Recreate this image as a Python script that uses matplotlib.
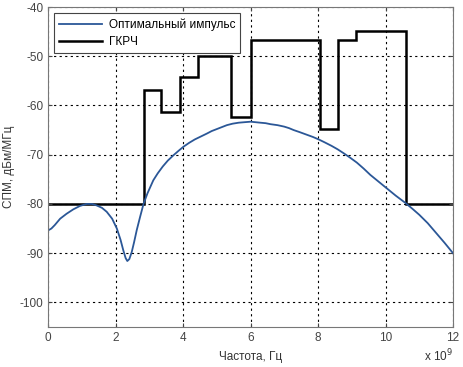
import numpy as np
import matplotlib
matplotlib.use("Agg")
import matplotlib.pyplot as plt

plt.rcParams['font.family'] = ['Liberation Sans', 'DejaVu Sans']
plt.rcParams['axes.unicode_minus'] = False

# Optimal pulse PSD (frequency in units of 1e9 Hz, dBm/MHz)
opt_f = [0.0, 0.1, 0.2, 0.36, 0.55, 0.75, 0.95, 1.15, 1.3, 1.44, 1.6, 1.74, 1.9, 2.04, 2.15, 2.23, 2.3, 2.35, 2.41,
         2.48, 2.55, 2.63, 2.73, 2.83, 2.95, 3.12, 3.25, 3.4, 3.55, 3.72, 3.87, 4.01, 4.18, 4.35, 4.53, 4.71, 4.85, 5.0,
         5.15, 5.3, 5.47, 5.65, 5.82, 6.0, 6.15, 6.29, 6.45, 6.59, 6.8, 7.0, 7.14, 7.28, 7.45, 7.65, 7.85, 8.02, 8.2,
         8.4, 8.58, 8.76, 8.95, 9.15, 9.35, 9.55, 9.8, 10.05, 10.3, 10.59, 10.8, 11.0, 11.25, 11.5, 11.75, 12.0]
opt_p = [-85.4, -85.0, -84.3, -83.0, -82.0, -81.1, -80.4, -80.0, -80.0, -80.3, -80.8, -81.6, -83.0, -85.0, -87.3, -89.4, -91.0, -91.6, -91.2,
         -89.8, -87.8, -85.3, -82.6, -80.0, -77.8, -75.2, -73.8, -72.4, -71.2, -70.1, -69.2, -68.4, -67.6, -66.9, -66.3, -65.7, -65.2, -64.8,
         -64.4, -64.0, -63.7, -63.5, -63.4, -63.3, -63.4, -63.5, -63.6, -63.8, -64.0, -64.3, -64.6, -65.0, -65.4, -65.9, -66.4, -66.9, -67.5,
         -68.2, -68.9, -69.7, -70.6, -71.6, -72.8, -74.1, -75.5, -76.9, -78.3, -79.8, -81.0, -82.2, -83.9, -85.9, -87.9, -90.0]

# GKRCh step mask: band edges and levels
mask_edges = [0.0, 2.84, 3.36, 3.92, 4.43, 5.43, 6.01, 8.07, 8.6, 9.14, 10.6, 12.0]
mask_levels = [-80.0, -56.9, -61.4, -54.2, -49.9, -62.4, -46.8, -64.8, -46.8, -44.9, -80.0]

legend_labels = ['Оптимальный импульс', 'ГКРЧ']
x_ticks = [0, 2, 4, 6, 8, 10, 12]
y_ticks = [-100, -90, -80, -70, -60, -50, -40]

fig = plt.figure(figsize=(4.63, 3.67), dpi=100)
ax = fig.add_axes([48/463, 40/367, 405/463, 320/367])

ax.plot(opt_f, opt_p, color='#2b5797', lw=1.3, label=legend_labels[0])
ax.stairs(mask_levels, mask_edges, color='black', lw=1.8, baseline=None, label=legend_labels[1])

ax.set_xlim(0, 12)
ax.set_ylim(-105, -40)
ax.set_xticks(x_ticks)
ax.set_yticks(y_ticks)
ax.grid(True, color='black', linestyle=(0, (2, 3)), linewidth=0.8)
ax.tick_params(direction='in', labelsize=8.5, colors='#444444', top=True, right=True, length=3)
for s in ax.spines.values():
    s.set_color('#777777')
    s.set_linewidth(0.8)

ax.set_xlabel('Частота, Гц', fontsize=8.5, color='#333333', labelpad=5)
ax.set_ylabel('СПМ, дБм/МГц', fontsize=8.5, color='#333333', labelpad=3)
ax.text(1.0, -0.065, r'x 10$^{9}$', transform=ax.transAxes, ha='right', va='top', fontsize=8.5, color='#333333')

leg = ax.legend(loc='upper left', fontsize=8.5, fancybox=False, framealpha=1, edgecolor='#444444',
                borderaxespad=0.55, handlelength=3.6, handletextpad=0.6, labelspacing=0.45, borderpad=0.4)
leg.get_frame().set_linewidth(0.8)

fig.savefig('out.png', dpi=100)
